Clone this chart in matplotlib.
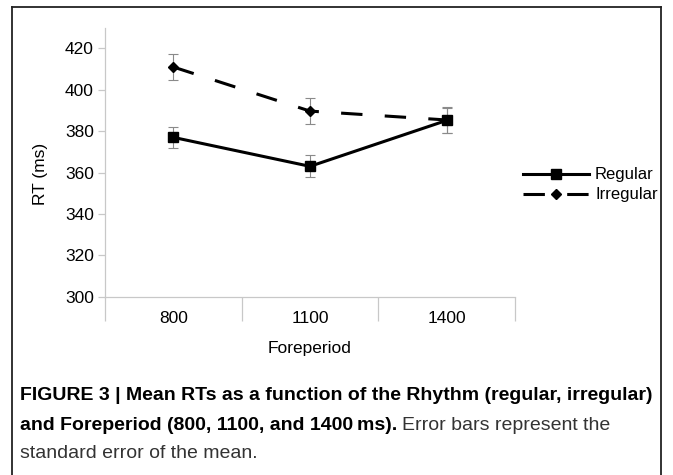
import matplotlib
matplotlib.use("Agg")
import matplotlib.pyplot as plt
from matplotlib.lines import Line2D

categories = ["800", "1100", "1400"]
regular = [377.0, 363.0, 385.2]
regular_err = [5.2, 5.3, 6.2]
irregular = [411.0, 389.7, 385.4]
irregular_err = [6.3, 6.2, 6.2]
yticks = [300, 320, 340, 360, 380, 400, 420]

plt.rcParams['font.family'] = ['Liberation Sans', 'DejaVu Sans']

W, H = 673, 475
fig = plt.figure(figsize=(W / 100, H / 100), dpi=100)

# outer frame (top, left, right)
frame_col = "#222222"
fig.add_artist(Line2D([12 / W, 12 / W], [0, 1 - 7 / H], color=frame_col, lw=1.3, transform=fig.transFigure))
fig.add_artist(Line2D([661 / W, 661 / W], [0, 1 - 7 / H], color=frame_col, lw=1.3, transform=fig.transFigure))
fig.add_artist(Line2D([12 / W, 661 / W], [1 - 7 / H, 1 - 7 / H], color=frame_col, lw=1.3, transform=fig.transFigure))

left, right, top, bottom = 105, 515, 27.7, 296.7
ax = fig.add_axes([left / W, 1 - bottom / H, (right - left) / W, (bottom - top) / H])

x = list(range(1, len(categories) + 1))
lw = 2.2
ax.errorbar(x, regular, yerr=regular_err, fmt='none', ecolor='#8a8a8a', elinewidth=0.8, capsize=3.5, capthick=0.8, zorder=2)
ax.errorbar(x, irregular, yerr=irregular_err, fmt='none', ecolor='#8a8a8a', elinewidth=0.8, capsize=3.5, capthick=0.8, zorder=2)
ax.plot(x, regular, color='black', lw=lw, marker='s', markersize=7.5, label='Regular', zorder=3)
ax.plot(x, irregular, color='black', lw=lw, linestyle=(0, (7, 7.3)), marker='D', markersize=5.5, label='Irregular', zorder=3)

ax.set_xlim(0.5, len(categories) + 0.5)
ax.set_ylim(300, 430)
ax.set_yticks(yticks)
ax.set_yticklabels([str(v) for v in yticks], fontsize=12.5)

ax.set_xticks([i + 0.5 for i in range(0, len(categories) + 1)])
ax.set_xticklabels([])
ax.set_xticks(x, minor=True)
ax.set_xticklabels(categories, minor=True, fontsize=12.5)
ax.tick_params(axis='x', which='major', length=17.3, color='#c8c8c8', width=0.9)
ax.tick_params(axis='x', which='minor', length=0, pad=10)
ax.tick_params(axis='y', length=5, color='#c8c8c8', width=0.9, pad=3)

for s in ['top', 'right']:
    ax.spines[s].set_visible(False)
for s in ['left', 'bottom']:
    ax.spines[s].set_color('#c8c8c8')
    ax.spines[s].set_linewidth(0.9)

ax.set_ylabel("RT (ms)", fontsize=12.5, va='center')
ax.yaxis.set_label_coords(-(left - 41) / (right - left), (bottom - 174) / (bottom - top))
ax.set_xlabel("Foreperiod", fontsize=12.5, va='center')
ax.xaxis.set_label_coords((310 - left) / (right - left), -(348 - bottom) / (bottom - top))

leg = ax.legend(loc='center left', bbox_to_anchor=(0.99, (bottom - 185) / (bottom - top)), frameon=False,
                fontsize=12, handlelength=4.0, handletextpad=0.35, labelspacing=0.3, borderaxespad=0.3)

# caption
fs = 14
fig.text(20 / W, 1 - 396 / H, "FIGURE 3 | Mean RTs as a function of the Rhythm (regular, irregular)",
         fontsize=fs, fontweight='bold', va='center', ha='left')
t2 = fig.text(20 / W, 1 - 425 / H, "and Foreperiod (800, 1100, and 1400\u2009ms).",
              fontsize=fs, fontweight='bold', va='center', ha='left')
fig.canvas.draw()
bb = t2.get_window_extent()
fig.text(bb.x1 / W + 5 / W, 1 - 425 / H, "Error bars represent the",
         fontsize=fs, va='center', ha='left', color='#333333')
fig.text(20 / W, 1 - 454 / H, "standard error of the mean.",
         fontsize=fs, va='center', ha='left', color='#333333')

fig.savefig("out.png", dpi=100)
